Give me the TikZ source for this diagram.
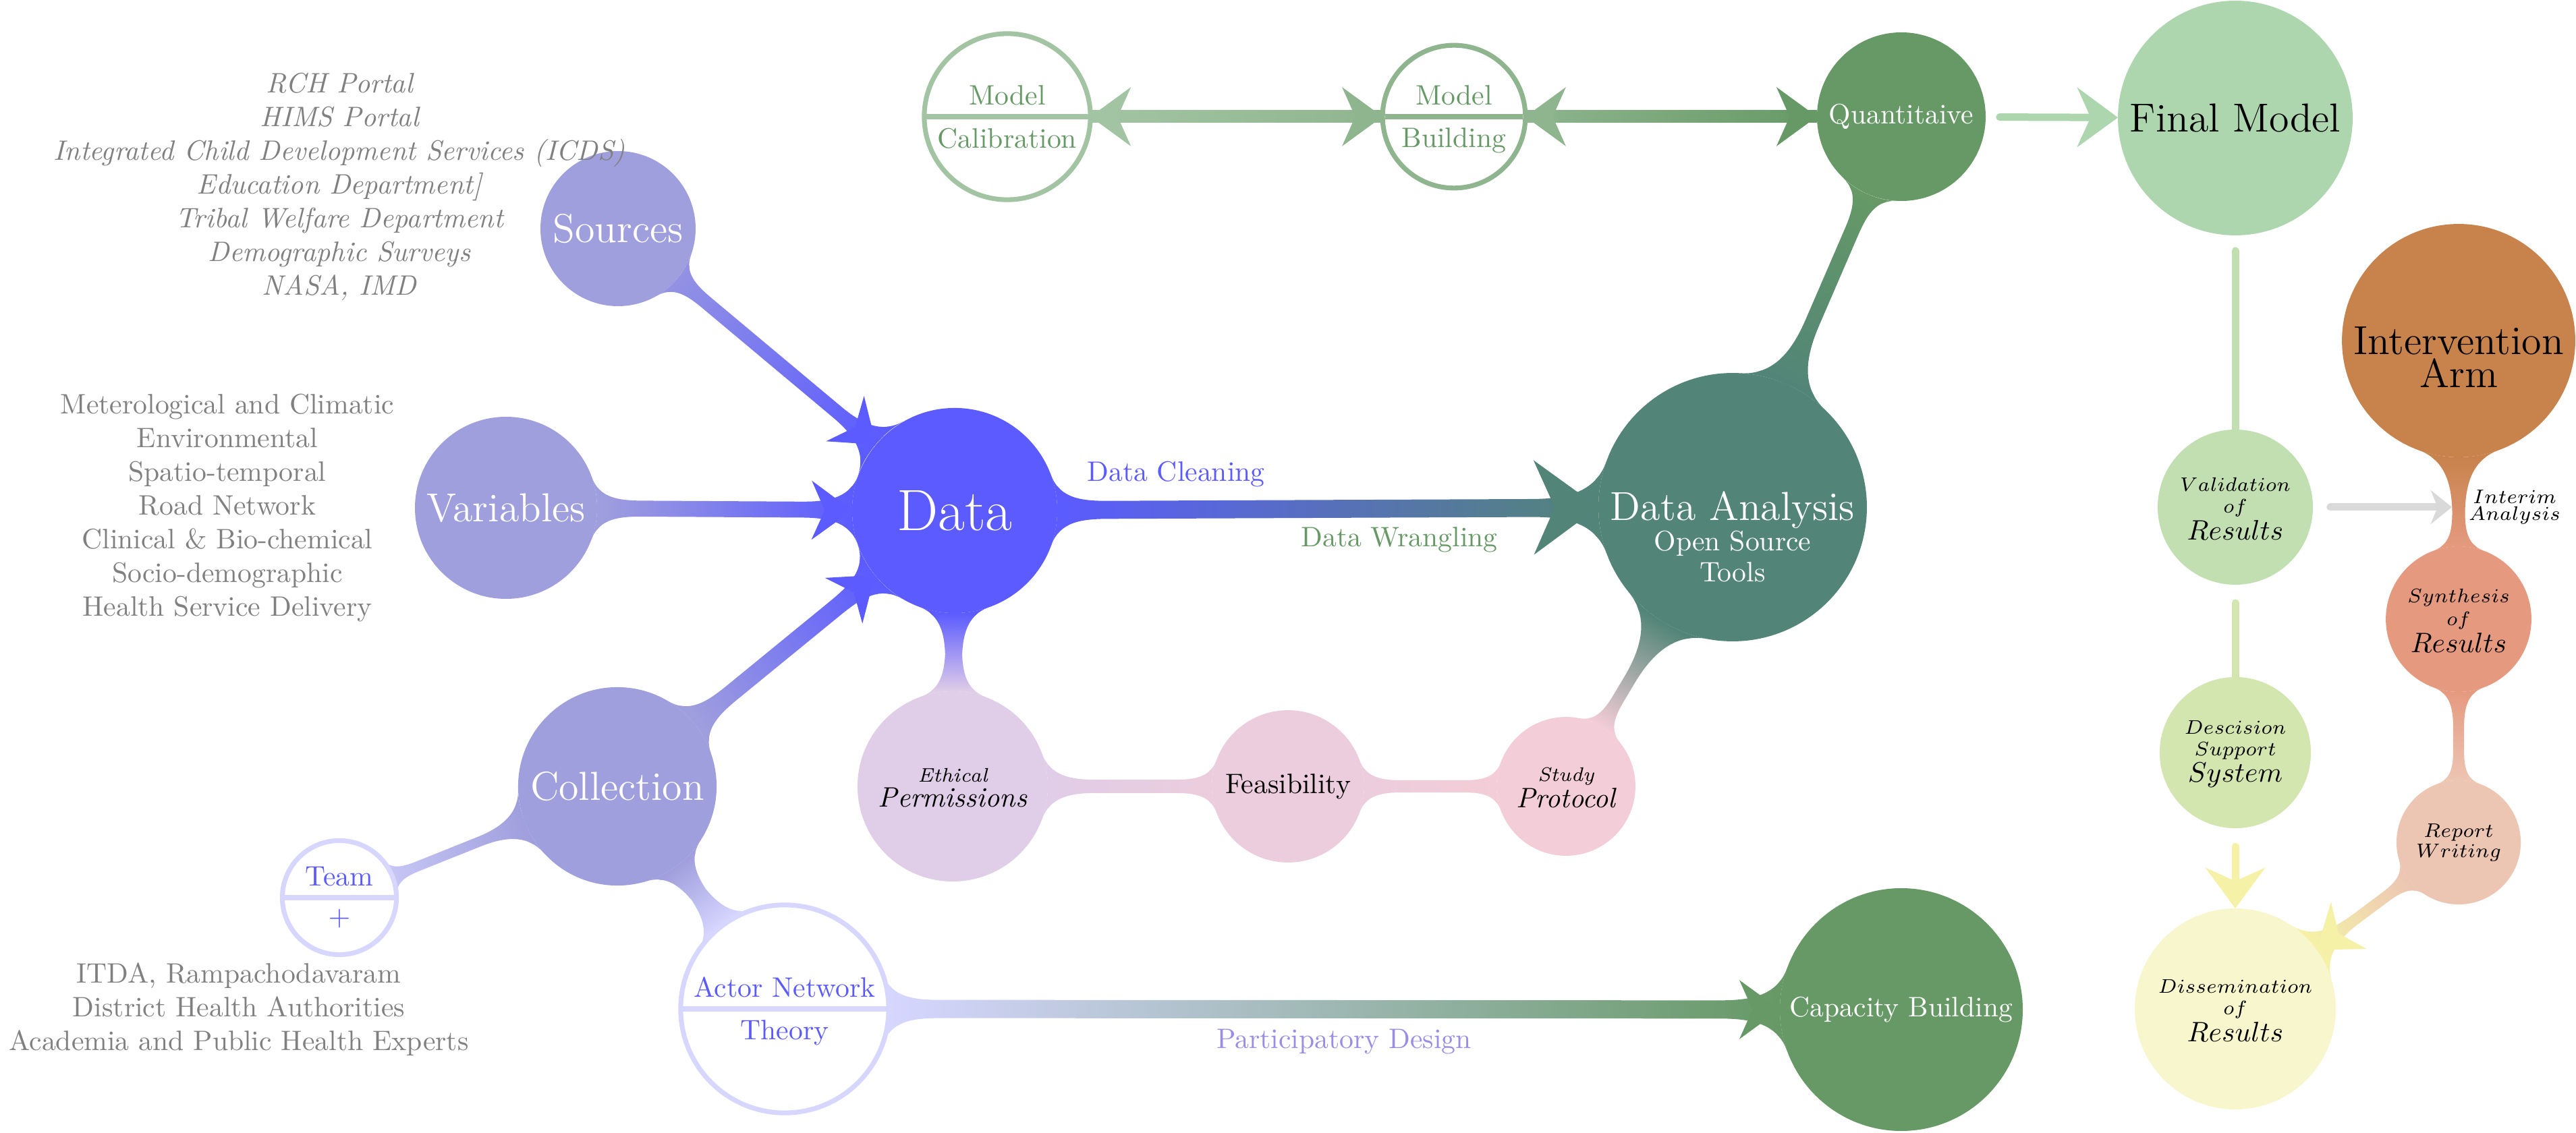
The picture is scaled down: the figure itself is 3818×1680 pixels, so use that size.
\documentclass[tikz,border=0pt]{standalone}
\usepackage{amsmath}
\usetikzlibrary{mindmap,shapes.multipart,arrows.meta,calc}
\pgfdeclarelayer{background}
\pgfsetlayers{background,main}
\definecolor{lav}{HTML}{A09FDD}
\definecolor{dblue}{HTML}{5B5BFF}
\definecolor{dteal}{HTML}{528577}
\definecolor{dgreen}{HTML}{669966}
\definecolor{fmc}{HTML}{ADD6AF}
\definecolor{valc}{HTML}{C2DFB2}
\definecolor{dssc}{HTML}{D4E6B0}
\definecolor{disc}{HTML}{F7F6CC}
\definecolor{iac}{HTML}{C8824C}
\definecolor{sync}{HTML}{E59A7F}
\definecolor{repc}{HTML}{ECC5B3}
\definecolor{epc}{HTML}{E0CDE7}
\definecolor{feasc}{HTML}{ECCDDD}
\definecolor{spc}{HTML}{F3CDD7}
\definecolor{palec}{HTML}{D6D6FF}
\definecolor{mcc}{HTML}{A3C4A3}
\definecolor{mbc}{HTML}{8FB58F}
\definecolor{yelc}{HTML}{F5F2A8}
\definecolor{partc}{HTML}{9B8CE6}
\definecolor{graytxt}{HTML}{808080}
\definecolor{arrgray}{HTML}{D9D9D9}
\begin{document}
\begin{tikzpicture}[x=0.24pt,y=-0.24pt,mindmap,
  bubble/.style={concept, concept color=#1, fill=#1, draw=none, circle, inner sep=0pt, text width={}, align=center, font=\normalsize},
  splitbox/.style={circle split, draw=#1, line width=1.7pt, fill=white, inner xsep=1pt, inner ysep=3.2pt, text width={}, align=center, font=\normalsize},
  listtext/.style={text=graytxt, text width={}, align=center, font=\normalsize},
  plaintext/.style={text width={}, align=center, font=\normalsize},
  bar/.style={line width=6.2pt},
  headA/.style={line width=0.3pt, -{Stealth[length=14.4pt,width=21pt]}},
  headB/.style={line width=0.3pt, -{Stealth[length=23pt,width=33.6pt]}},
  thinline/.style={line width=2.64pt, line cap=round}
]
\useasboundingbox (0,0) rectangle (3818,1680);
% concepts
\node[bubble=lav, minimum size=55.2pt, text=white, font=\Large] (src) at (916,339) {Sources};
\node[bubble=lav, minimum size=64.8pt, text=white, font=\Large] (var) at (750,753) {Variables};
\node[bubble=lav, minimum size=70.6pt, text=white, font=\Large] (col) at (915,1166) {Collection};
\node[bubble=dblue, minimum size=73pt, text=white, font=\huge] (data) at (1415,757) {Data};
\node[bubble=dteal, minimum size=95.5pt, label={[plaintext, text=white, font={\fontsize{10pt}{11pt}\selectfont}, yshift=-10.5pt]center:{\Large Data Analysis}\\Open Source\\Tools}] (da) at (2568,752) {};
\node[bubble=dgreen, minimum size=60pt, text=white] (quant) at (2818,173) {Quantitaive};
\node[bubble=fmc, minimum size=83.5pt, font=\Large] (fm) at (3313,175) {Final Model};
\node[bubble=iac, minimum size=83pt, label={[plaintext, font={\fontsize{14.4pt}{11.8pt}\selectfont}, yshift=-5.8pt]center:Intervention\\Arm}] (ia) at (3644,505) {};
\node[bubble=valc, minimum size=55.2pt] (val) at (3313,752) {$\overset{Validation}{\overset{of}{Results}}$};
\node[bubble=sync, minimum size=51.8pt] (syn) at (3644,918) {$\overset{Synthesis}{\overset{of}{Results}}$};
\node[bubble=repc, minimum size=44.2pt] (rep) at (3644,1249) {$\substack{Report\\Writing}$};
\node[bubble=dssc, minimum size=53.8pt] (dss) at (3313,1116) {$\overset{Descision}{\overset{Support}{System}}$};
\node[bubble=disc, minimum size=71.5pt] (dis) at (3313,1496) {$\overset{Dissemination}{\overset{of}{Results}}$};
\node[bubble=epc, minimum size=67.7pt] (ep) at (1412,1166) {$\overset{\textit{Ethical}}{\textit{Permissions}}$};
\node[bubble=feasc, minimum size=54.2pt] (feas) at (1909,1166) {Feasibility};
\node[bubble=spc, minimum size=49.4pt] (sp) at (2321,1166) {$\overset{\textit{Study}}{\textit{Protocol}}$};
\node[bubble=dgreen, minimum size=86.4pt, text=white] (cb) at (2818,1497) {Capacity Building};
% split circles
\node[splitbox=palec, minimum size=40.6pt, text=dblue] (team) at (503,1331) {Team\nodepart{lower}$+$};
\node[splitbox=palec, minimum size=71.3pt, text=dblue] (ant) at (1163,1496) {Actor Network\nodepart{lower}Theory};
\node[splitbox=mcc, minimum size=57.4pt, text=dgreen] (mc) at (1493,173) {Model\nodepart{lower}Calibration};
\node[splitbox=mbc, minimum size=48.7pt, text=dgreen] (mb) at (2155,173) {Model\nodepart{lower}Building};
% lists and labels
\node[listtext, font=\itshape] (srclist) at (503,277) {RCH Portal\\HIMS Portal\\Integrated Child Development Services (ICDS)\\Education Department]\\Tribal Welfare Department\\Demographic Surveys\\NASA, IMD};
\node[listtext] (varlist) at (337,753) {Meterological and Climatic\\Environmental\\Spatio-temporal\\Road Network\\Clinical \& Bio-chemical\\Socio-demographic\\Health Service Delivery};
\node[listtext] (teamlist) at (354,1497) {ITDA, Rampachodavaram\\District Health Authorities\\Academia and Public Health Experts};
\node[plaintext, text=dblue] (lclean) at (1743,703) {Data Cleaning};
\node[plaintext, text=dgreen] (lwrang) at (2074,800) {Data Wrangling};
\node[plaintext, text=partc] (lpart) at (1992,1545) {Participatory Design};
\node[plaintext] (linterim) at (3727,752) {$\substack{Interim\\Analysis}$};
\coordinate (interimpt) at (3634,752);
% connection bars
\begin{pgfonlayer}{background}
\fill[white] (0,0) rectangle (3818,1680);
\path[bar] (src) to[circle connection bar switch color=from (lav!80!dblue) to (dblue)] (data);
\path[bar] (var) to[circle connection bar switch color=from (lav) to (dblue)] (data);
\path[bar] (col) to[circle connection bar switch color=from (lav) to (dblue)] (data);
\path[bar] (team) to[circle connection bar switch color=from (palec!70!lav) to (lav)] (col);
\path[bar] (col) to[circle connection bar switch color=from (lav) to (palec)] (ant);
\path[bar] (ant) to[circle connection bar switch color=from (palec) to (dgreen)] (cb);
\path[bar] (data) to[circle connection bar switch color=from (dblue) to (dteal)] (da);
\path[bar] (data) to[circle connection bar switch color=from (dblue) to (epc)] (ep);
\path[bar] (ep) to[circle connection bar switch color=from (epc) to (feasc)] (feas);
\path[bar] (feas) to[circle connection bar switch color=from (feasc) to (spc)] (sp);
\path[bar] (sp) to[circle connection bar switch color=from (spc) to (dteal)] (da);
\path[bar] (da) to[circle connection bar switch color=from (dteal) to (dgreen)] (quant);
\path[bar] (ia) to[circle connection bar switch color=from (iac) to (sync)] (syn);
\path[bar] (syn) to[circle connection bar switch color=from (sync) to (repc)] (rep);
\path[bar] (rep) to[circle connection bar switch color=from (repc) to (yelc)] (dis);
\end{pgfonlayer}
% model arrows
\fill[left color=mcc, right color=mbc] ($(mc.east)+(0,-9)$) rectangle ($(mb.west)+(0,9)$);
\fill[left color=mbc, right color=dgreen] ($(mb.east)+(0,-9)$) rectangle ($(quant.west)+(0,9)$);
\draw[headA, mcc] ($(mc.east)!1pt!(mb)$) -- (mc.east);
\draw[headA, mbc] ($(mb.west)!1pt!(mc)$) -- (mb.west);
\draw[headA, mbc] ($(mb.east)!1pt!(quant)$) -- (mb.east);
\draw[headA, dgreen] ($(quant.west)!1pt!(mb)$) -- (quant.west);
% arrow heads on bars
\draw[headA, dblue] ($(data.140)!1pt!(src)$) -- (data.140);
\draw[headA, dblue] ($(data.180)!1pt!(var)$) -- (data.180);
\draw[headA, dblue] ($(data.219)!1pt!(col)$) -- (data.219);
\draw[headB, dteal] ($(da.180)!1pt!(data)$) -- (da.180);
\draw[headA, dgreen] ($(cb.180)!1pt!(ant)$) -- (cb.180);
\draw[headA, yelc] ($(dis.36.7)!1pt!(rep)$) -- (dis.36.7);
% plain arrows
\draw[thinline, fmc, shorten <=5pt, -{Stealth[length=14.4pt,width=21pt]}] (quant) -- (fm);
\draw[thinline, valc, shorten <=5.5pt] (fm) -- (val);
\draw[thinline, dssc, shorten <=6.5pt] (val) -- (dss);
\draw[thinline, yelc, shorten <=6.5pt, -{Stealth[length=14.4pt,width=21pt]}] (dss) -- (dis);
\draw[thinline, arrgray, shorten <=6.2pt, -{Stealth[length=7.5pt,width=12pt]}] (val) -- (interimpt);
\end{tikzpicture}
\end{document}
